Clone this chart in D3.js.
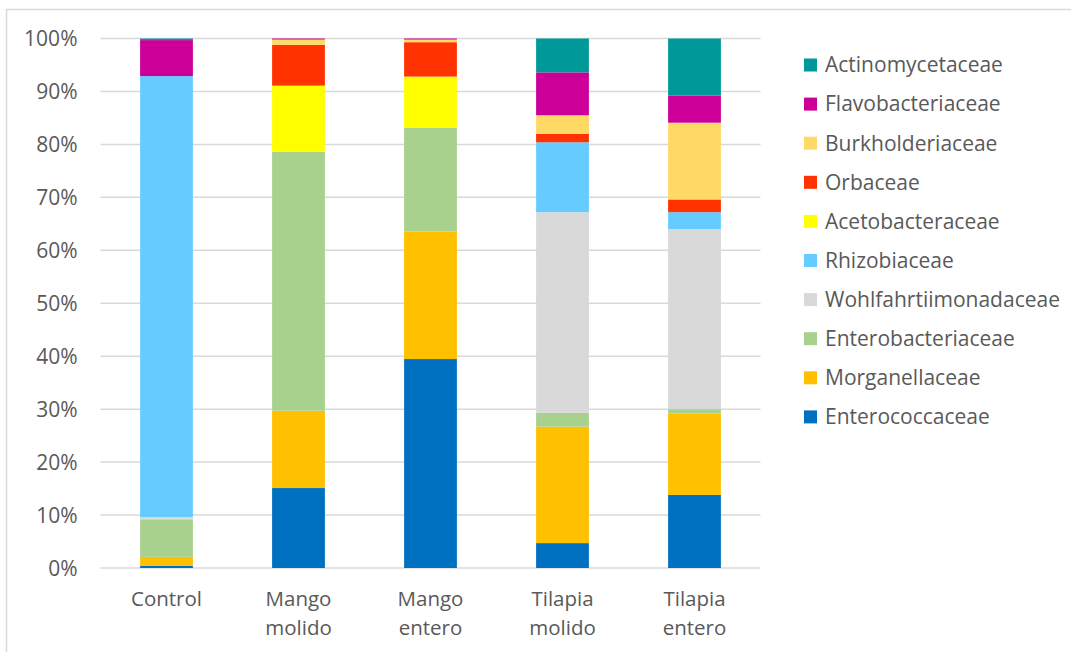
<!DOCTYPE html>
<html>
<head>
<meta charset="utf-8">
<script src="https://cdn.jsdelivr.net/npm/d3@7"></script>
<style>
  html, body { margin: 0; padding: 0; background: #fff; }
  svg { display: block; }
  text { font-family: "Open Sans", sans-serif; fill: #595959; }
</style>
</head>
<body>
<svg id="chart" width="1071" height="652"></svg>
<script>
// Sample groups (x axis), two-line labels
const groups = ["Control", "Mango molido", "Mango entero", "Tilapia molido", "Tilapia entero"];
const groupLines = [["Control"], ["Mango", "molido"], ["Mango", "entero"], ["Tilapia", "molido"], ["Tilapia", "entero"]];

// Families, stacked bottom to top
const families = [
  "Enterococcaceae", "Morganellaceae", "Enterobacteriaceae", "Wohlfahrtiimonadaceae",
  "Rhizobiaceae", "Acetobacteraceae", "Orbaceae", "Burkholderiaceae",
  "Flavobacteriaceae", "Actinomycetaceae"
];
const colors = [
  "#0070C0", "#FFC000", "#A9D18E", "#D9D9D9",
  "#66CCFF", "#FFFF00", "#FF3300", "#FFD966",
  "#CC0099", "#009999"
];

// Relative abundance (%) per family, one value per group
const enterococcaceae       = [0.4, 15.1, 39.5, 4.7, 13.8];
const morganellaceae        = [1.7, 14.6, 24.1, 22.0, 15.4];
const enterobacteriaceae    = [7.1, 48.9, 19.6, 2.6, 0.8];
const wohlfahrtiimonadaceae = [0.4, 0.0, 0.0, 37.9, 34.0];
const rhizobiaceae          = [83.3, 0.0, 0.0, 13.2, 3.2];
const acetobacteraceae      = [0.0, 12.5, 9.7, 0.0, 0.0];
const orbaceae              = [0.0, 7.7, 6.5, 1.6, 2.4];
const burkholderiaceae      = [0.0, 1.0, 0.5, 3.5, 14.5];
const flavobacteriaceae     = [6.8, 0.2, 0.2, 8.1, 5.1];
const actinomycetaceae      = [0.3, 0.0, 0.0, 6.4, 10.8];

const seriesValues = [
  enterococcaceae, morganellaceae, enterobacteriaceae, wohlfahrtiimonadaceae,
  rhizobiaceae, acetobacteraceae, orbaceae, burkholderiaceae,
  flavobacteriaceae, actinomycetaceae
];

const yTicks = [0, 10, 20, 30, 40, 50, 60, 70, 80, 90, 100];

// Table for the stack layout (normalised to 100%)
const table = groups.map((g, i) => {
  const row = { group: g };
  let total = 0;
  families.forEach((f, k) => { total += seriesValues[k][i]; });
  families.forEach((f, k) => { row[f] = seriesValues[k][i] / total * 100; });
  return row;
});

const svg = d3.select("#chart");

// Outer chart frame
svg.append("rect")
  .attr("x", 6.5).attr("y", 9.5)
  .attr("width", 1080).attr("height", 660)
  .attr("fill", "none").attr("stroke", "#D9D9D9").attr("stroke-width", 1.5);

const plot = { left: 100.5, right: 760.5, top: 38.5, bottom: 568 };

const x = d3.scaleBand().domain(groups)
  .range([plot.left, plot.right])
  .paddingInner(0.6).paddingOuter(0.3);

const y = d3.scaleLinear().domain([0, 100]).range([plot.bottom, plot.top]);

// Gridlines
svg.append("g")
  .selectAll("line").data(yTicks).join("line")
  .attr("x1", plot.left).attr("x2", plot.right)
  .attr("y1", d => y(d)).attr("y2", d => y(d))
  .attr("stroke", "#D9D9D9").attr("stroke-width", 1.5);

// Y axis labels
const yAxis = d3.axisLeft(y).tickValues(yTicks).tickSize(0).tickPadding(0)
  .tickFormat(d => d + "%");
svg.append("g")
  .attr("transform", `translate(${plot.left - 23},0)`)
  .call(yAxis)
  .call(g => g.select(".domain").remove())
  .call(g => g.selectAll("text")
    .attr("font-size", 21)
    .attr("font-family", "Open Sans, sans-serif")
    .attr("fill", "#595959")
    .attr("dy", "0.35em"));

// Stacked bars
const stack = d3.stack().keys(families);
const layers = stack(table);

svg.append("g")
  .selectAll("g").data(layers).join("g")
  .attr("fill", (d, i) => colors[i])
  .selectAll("rect").data(d => d).join("rect")
  .attr("x", d => x(d.data.group))
  .attr("width", x.bandwidth())
  .attr("y", d => y(d[1]))
  .attr("height", d => Math.max(0, y(d[0]) - y(d[1])));

// X axis labels
const xl = svg.append("g");
groups.forEach((g, i) => {
  const t = xl.append("text")
    .attr("x", x(g) + x.bandwidth() / 2)
    .attr("y", 606)
    .attr("text-anchor", "middle")
    .attr("font-size", 20.5);
  groupLines[i].forEach((line, j) => {
    t.append("tspan")
      .attr("x", x(g) + x.bandwidth() / 2)
      .attr("dy", j === 0 ? 0 : 29)
      .text(line);
  });
});

// Legend, top to bottom in reverse stacking order
const legendItems = families.map((f, i) => ({ name: f, color: colors[i] })).reverse();
const legend = svg.append("g").attr("transform", "translate(804,65)");
const li = legend.selectAll("g").data(legendItems).join("g")
  .attr("transform", (d, i) => `translate(0,${i * 39.1})`);
li.append("rect")
  .attr("x", 0).attr("y", -6.5)
  .attr("width", 13).attr("height", 13)
  .attr("fill", d => d.color);
li.append("text")
  .attr("x", 21).attr("y", 0).attr("dy", "0.35em")
  .attr("font-size", 21)
  .text(d => d.name);
</script>
</body>
</html>
